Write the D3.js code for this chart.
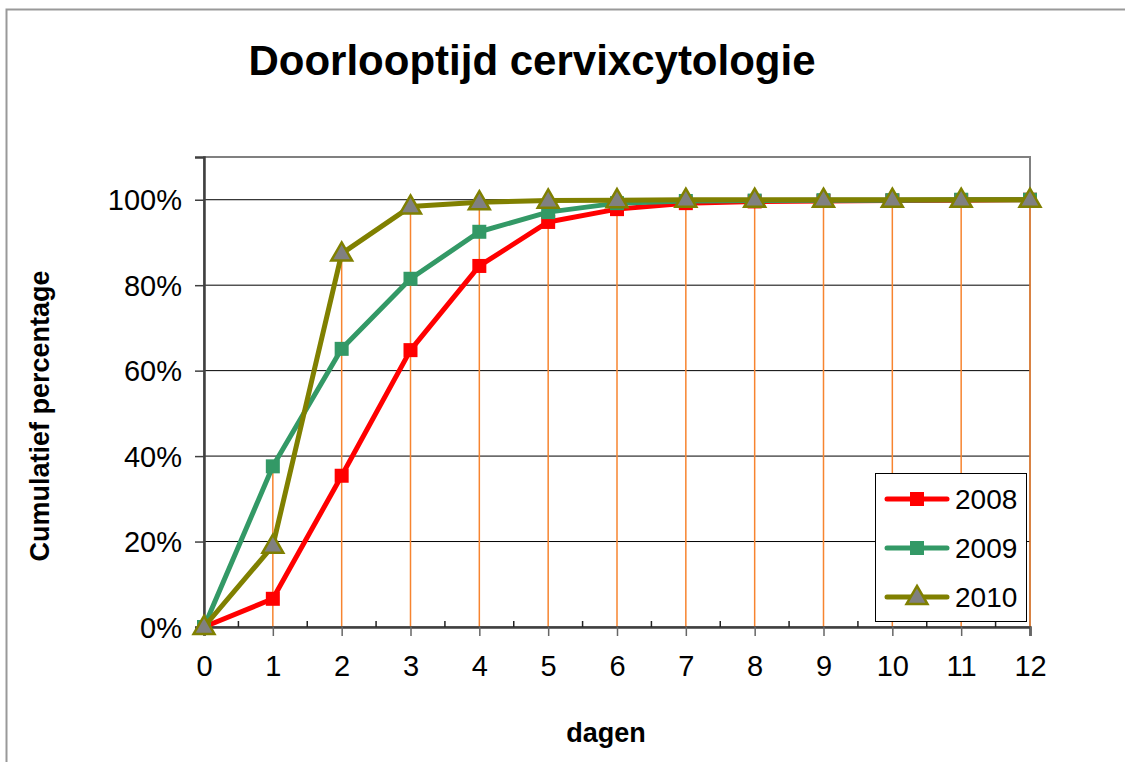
<!DOCTYPE html>
<html><head><meta charset="utf-8">
<script src="https://cdn.jsdelivr.net/npm/d3@7"></script>
<style>body{margin:0;background:#fff}svg{display:block}text{font-family:"Liberation Sans",Arial,sans-serif}</style>
</head><body>
<svg id="c" width="1125" height="762"></svg>
<script>
const days = [0,1,2,3,4,5,6,7,8,9,10,11,12];
const s2008 = [0,6.6,35.4,64.8,84.5,94.8,97.8,99.2,99.6,99.7,99.8,99.9,100];
const s2009 = [0,37.6,65.1,81.5,92.5,97.1,99.2,99.7,99.8,99.9,99.9,100,100];
const s2010 = [0,19.0,87.4,98.4,99.4,99.8,99.9,100,100,100,100,100,100];
const seriesNames = ["2008","2009","2010"];
const yTicks = [0,20,40,60,80,100];
const title = "Doorlooptijd cervixcytologie";
const xTitle = "dagen";
const yTitle = "Cumulatief percentage";

const svg = d3.select("#c");
const L=204, R=1030, T=157, B=627;
const x = d3.scaleLinear().domain([0,12]).range([L,R]);
const y = d3.scaleLinear().domain([0,110]).range([B,T]);

svg.append("rect").attr("x",6.5).attr("y",9.5).attr("width",1300).attr("height",900)
  .attr("fill","#fff").attr("stroke","#999").attr("stroke-width",2);

svg.append("text").attr("x",532).attr("y",75).attr("text-anchor","middle")
  .attr("font-size",42).attr("font-weight","bold").text(title);

// plot border
svg.append("rect").attr("x",L).attr("y",T).attr("width",R-L).attr("height",B-T)
  .attr("fill","none").attr("stroke","#808080").attr("stroke-width",2);

// horizontal gridlines
svg.append("g").selectAll("line").data(yTicks.filter(d=>d>0)).join("line")
  .attr("x1",L).attr("x2",R).attr("y1",d=>y(d)).attr("y2",d=>y(d))
  .attr("stroke","#000").attr("stroke-width",1);

// drop lines
const maxv = days.map((d,i)=>Math.max(s2008[i],s2009[i],s2010[i]));
svg.append("g").selectAll("line").data(days.filter(d=>d>0)).join("line")
  .attr("x1",d=>x(d)).attr("x2",d=>x(d)).attr("y1",d=>y(maxv[d])).attr("y2",B)
  .attr("stroke","#F7842F").attr("stroke-width",1.5);

// axes
const yAxis = d3.axisLeft(y).tickValues(yTicks).tickSize(9).tickPadding(13).tickFormat(d=>d+"%");
const gy = svg.append("g").attr("transform",`translate(${L},0)`).call(yAxis);
gy.select(".domain").attr("stroke","#404040").attr("stroke-width",2.5);
gy.selectAll(".tick line").attr("stroke","#404040").attr("stroke-width",1.5);
gy.selectAll(".tick text").attr("font-size",29).attr("font-family","Liberation Sans, Arial, sans-serif").attr("fill","#000").attr("dy","0.35em");

const xAxis = d3.axisBottom(x).tickValues(days).tickSize(9).tickPadding(19).tickFormat(d3.format("d"));
const gx = svg.append("g").attr("transform",`translate(0,${B})`).call(xAxis);
gx.select(".domain").attr("stroke","#404040").attr("stroke-width",2.5);
gx.selectAll(".tick line").attr("stroke","#666").attr("stroke-width",1.5);
gx.selectAll(".tick text").attr("font-size",29).attr("font-family","Liberation Sans, Arial, sans-serif").attr("fill","#000");
// minor ticks at halves (inside)
svg.append("g").selectAll("line").data(days.slice(0,-1).map(d=>d+0.5)).join("line")
  .attr("x1",d=>x(d)).attr("x2",d=>x(d)).attr("y1",B).attr("y2",B-6)
  .attr("stroke","#222").attr("stroke-width",1.5);

svg.append("text").attr("x",606).attr("y",742).attr("text-anchor","middle")
  .attr("font-size",27).attr("font-weight","bold").text(xTitle);
svg.append("text").attr("transform","translate(49,416) rotate(-90)").attr("text-anchor","middle")
  .attr("font-size",27).attr("font-weight","bold").text(yTitle);

const line = d3.line().x((d,i)=>x(days[i])).y(d=>y(d));
const series = [
  {name:seriesNames[0], vals:s2008, color:"#FF0000", marker:"square"},
  {name:seriesNames[1], vals:s2009, color:"#339966", marker:"square"},
  {name:seriesNames[2], vals:s2010, color:"#808000", marker:"triangle"}
];
const tri = d3.symbol().type(d3.symbolTriangle).size(190);
function drawMarker(g, cx, cy, s){
  if(s.marker==="square"){
    g.append("rect").attr("x",cx-7).attr("y",cy-7).attr("width",14).attr("height",14).attr("fill",s.color);
  } else {
    g.append("path").attr("d",tri()).attr("transform",`translate(${cx},${cy+1})`)
      .attr("fill","#808080").attr("stroke",s.color).attr("stroke-width",2.5).attr("stroke-linejoin","miter");
  }
}
series.forEach(s=>{
  const g = svg.append("g");
  g.append("path").datum(s.vals).attr("d",line).attr("fill","none")
    .attr("stroke",s.color).attr("stroke-width",5).attr("stroke-linejoin","round");
  s.vals.forEach((v,i)=>drawMarker(g, x(days[i]), y(v), s));
});

// legend
const lg = svg.append("g");
lg.append("rect").attr("x",875.5).attr("y",473.5).attr("width",151).attr("height",148)
  .attr("fill","#fff").attr("stroke","#000").attr("stroke-width",1);
series.forEach((s,i)=>{
  const cy = 499 + i*49;
  lg.append("line").attr("x1",887).attr("x2",947).attr("y1",cy).attr("y2",cy)
    .attr("stroke",s.color).attr("stroke-width",5).attr("stroke-linecap","round");
  drawMarker(lg, 917, cy, s);
  lg.append("text").attr("x",955).attr("y",cy).attr("dy","0.35em").attr("font-size",28).text(s.name);
});
</script>
</body></html>
